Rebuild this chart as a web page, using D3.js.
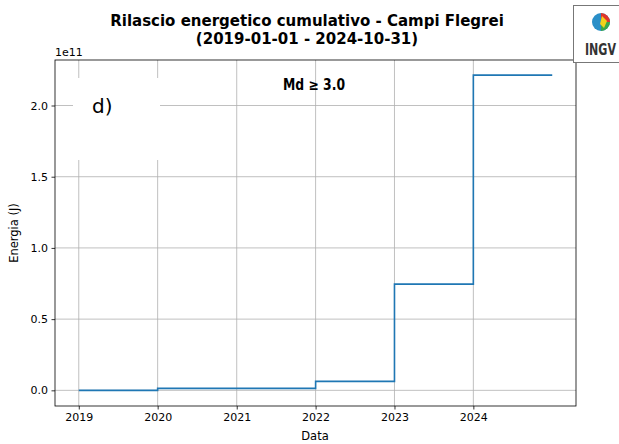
<!DOCTYPE html>
<html><head><meta charset="utf-8">
<script src="https://cdn.jsdelivr.net/npm/d3@7"></script>
<style>body{margin:0;background:#fff}svg{display:block}text{font-family:"DejaVu Sans",sans-serif}</style>
</head><body>
<svg id="c" width="619" height="444"></svg>
<script>
const dates = ["2019-01-01","2020-01-01","2021-01-01","2022-01-01","2023-01-01","2024-01-01","2024-12-31"];
const energy = [0.0, 0.014e11, 0.014e11, 0.063e11, 0.746e11, 2.213e11, 2.213e11];
const xTicks = ["2019","2020","2021","2022","2023","2024"];
const yTicks = [0, 0.5e11, 1.0e11, 1.5e11, 2.0e11];
const title1 = "Rilascio energetico cumulativo - Campi Flegrei";
const title2 = "(2019-01-01 - 2024-10-31)";
const yLabel = "Energia (J)", xLabel = "Data", panel = "d)", note = "Md \u2265 3.0";

const svg = d3.select("#c");
const parse = d3.timeParse("%Y-%m-%d");
const data = dates.map((d,i)=>({d:parse(d), v:energy[i]}));
const L=55,R=576,T=60,B=406;
const x = d3.scaleTime().domain([parse("2018-09-13"), parse("2025-04-20")]).range([L,R]);
const y = d3.scaleLinear().domain([-0.11e11, 2.3195e11]).range([B,T]);

// grid
svg.append("g").selectAll("line").data(xTicks).join("line")
  .attr("x1",d=>x(parse(d+"-01-01"))).attr("x2",d=>x(parse(d+"-01-01")))
  .attr("y1",T).attr("y2",B).attr("stroke","#b0b0b0").attr("stroke-width",0.8);
svg.append("g").selectAll("line").data(yTicks).join("line")
  .attr("x1",L).attr("x2",R).attr("y1",d=>y(d)).attr("y2",d=>y(d))
  .attr("stroke","#b0b0b0").attr("stroke-width",0.8);

// panel label box
svg.append("rect").attr("x",73).attr("y",78).attr("width",87).attr("height",82).attr("fill","#fff");
svg.append("text").attr("x",92).attr("y",113).attr("font-size",20).attr("fill","#000").text(panel);

// line
svg.append("path").datum(data)
  .attr("d", d3.line().x(d=>x(d.d)).y(d=>y(d.v)).curve(d3.curveStepAfter))
  .attr("fill","none").attr("stroke","#1f77b4").attr("stroke-width",1.6);

// axes
const xa = svg.append("g").attr("transform",`translate(0,${B})`)
  .call(d3.axisBottom(x).tickValues(xTicks.map(t=>parse(t+"-01-01"))).tickFormat(d3.timeFormat("%Y")).tickSize(3.5).tickPadding(3.5));
const ya = svg.append("g").attr("transform",`translate(${L},0)`)
  .call(d3.axisLeft(y).tickValues(yTicks).tickFormat(d=>(d/1e11).toFixed(1)).tickSize(3.5).tickPadding(3.5));
[xa,ya].forEach(a=>{a.select(".domain").remove();a.selectAll("text").attr("font-size",11).attr("font-family","DejaVu Sans").attr("fill","#000");a.selectAll("line").attr("stroke","#000").attr("stroke-width",0.8);});
// frame
svg.append("rect").attr("x",L).attr("y",T).attr("width",R-L).attr("height",B-T).attr("fill","none").attr("stroke","#000").attr("stroke-width",0.8);

svg.append("text").attr("x",L).attr("y",T-4).attr("font-size",11).text("1e11");
svg.append("text").attr("x",307).attr("y",26).attr("text-anchor","middle").attr("font-size",15).attr("font-weight","bold").text(title1);
svg.append("text").attr("x",307).attr("y",44).attr("text-anchor","middle").attr("font-size",15).attr("font-weight","bold").text(title2);
svg.append("text").attr("transform","translate(18,233) rotate(-90)").attr("text-anchor","middle").attr("font-size",11.5).text(yLabel);
svg.append("text").attr("x",315).attr("y",440).attr("text-anchor","middle").attr("font-size",11.5).text(xLabel);
svg.append("text").attr("x",283).attr("y",90).attr("font-size",15).attr("font-weight","bold")
  .attr("font-family","Roboto,'Liberation Sans',sans-serif").attr("textLength",62).attr("lengthAdjust","spacingAndGlyphs").text(note);

// logo
const lg = svg.append("g");
lg.append("rect").attr("x",573.5).attr("y",5.5).attr("width",50).attr("height",57).attr("fill","#fff").attr("stroke","#777").attr("stroke-width",1);
const cx=601, cy=22, r=9;
lg.append("circle").attr("cx",cx).attr("cy",cy).attr("r",r).attr("fill","#2a8fc8");
lg.append("path").attr("d",`M${cx} ${cy-r} A${r} ${r} 0 0 1 ${cx+r} ${cy} L${cx} ${cy} Z`).attr("fill","#e0362c");
lg.append("path").attr("d",`M${cx+r} ${cy} A${r} ${r} 0 0 1 ${cx} ${cy+r} L${cx} ${cy} Z`).attr("fill","#3aa84a");
lg.append("path").attr("d",`M${cx+1} ${cy-6} L${cx+6} ${cy-1} L${cx+3} ${cy+6} L${cx-1} ${cy+2} Z`).attr("fill","#f2d21b");
lg.append("text").attr("transform","translate(585,55) scale(1,1.5)").attr("font-size",11).attr("font-weight","bold")
  .attr("font-family","DejaVu Sans").attr("fill","#333").attr("textLength",31).attr("lengthAdjust","spacingAndGlyphs").text("INGV");
</script>
</body></html>
